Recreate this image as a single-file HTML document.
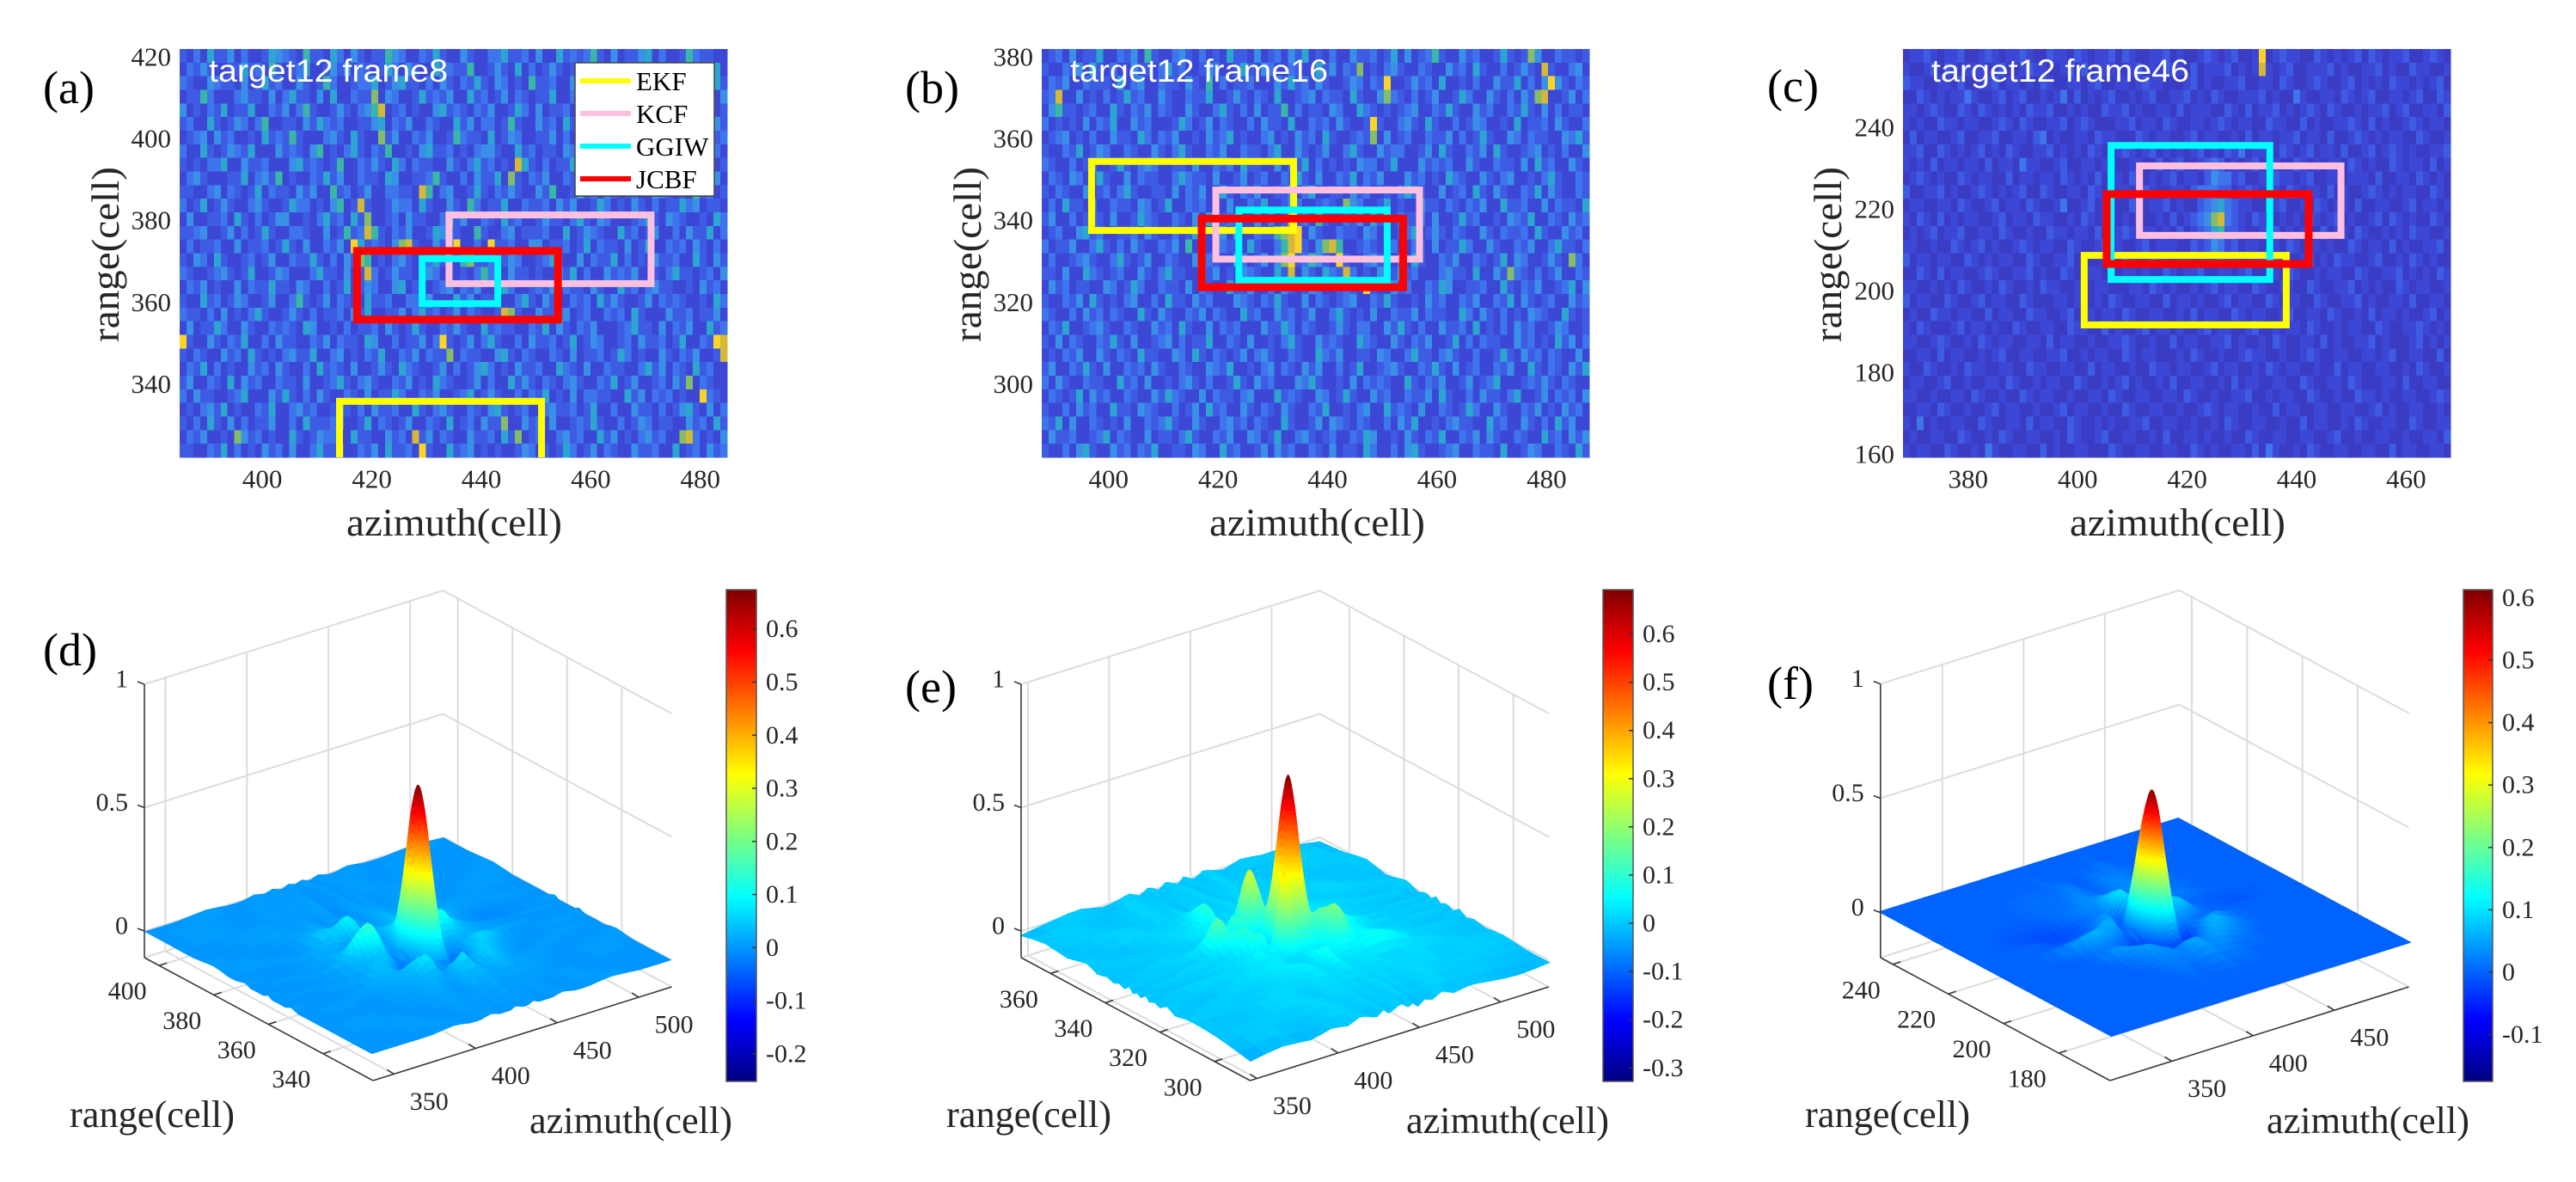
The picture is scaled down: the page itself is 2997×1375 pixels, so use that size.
<!DOCTYPE html>
<html>
<head>
<meta charset="utf-8">
<title>Target tracking heatmaps and 3D surfaces</title>
<style>
html,body{margin:0;padding:0;background:#fff;width:2997px;height:1375px;overflow:hidden}
svg{position:absolute;left:0;top:0;display:block}
text{font-family:"Liberation Serif",serif;fill:#262626}
.lab{font-size:46px}
.lab3{font-size:44px}
.letter{font-size:54px;fill:#000}
.title{font-family:"Liberation Sans",sans-serif;font-size:37px;fill:#fff}
.leg{font-size:31px;fill:#000}
</style>
</head>
<body>
<svg id="chart" xmlns="http://www.w3.org/2000/svg" width="2997" height="1375" viewBox="0 0 2997 1375">
<rect x="0" y="0" width="2997" height="1375" fill="#fff"/>
<g id="layer-marks"></g>
<g>
<text class="letter" x="50" y="120">(a)</text>
<text class="letter" x="1053" y="120">(b)</text>
<text class="letter" x="2056" y="118">(c)</text>
<text class="letter" x="50" y="774">(d)</text>
<text class="letter" x="1053" y="817">(e)</text>
<text class="letter" x="2056" y="813">(f)</text>
</g>
<g>
<text class="title" x="243" y="95" textLength="278" lengthAdjust="spacingAndGlyphs">target12 frame8</text>
<text class="title" x="1245" y="95" textLength="300" lengthAdjust="spacingAndGlyphs">target12 frame16</text>
<text class="title" x="2247" y="95" textLength="300" lengthAdjust="spacingAndGlyphs">target12 frame46</text>
</g>
<g>
<text class="lab" x="403" y="623" textLength="251" lengthAdjust="spacingAndGlyphs">azimuth(cell)</text>
<text class="lab" x="1407" y="623" textLength="251" lengthAdjust="spacingAndGlyphs">azimuth(cell)</text>
<text class="lab" x="2408" y="623" textLength="251" lengthAdjust="spacingAndGlyphs">azimuth(cell)</text>
<text class="lab" transform="translate(138,398) rotate(-90)" textLength="204" lengthAdjust="spacingAndGlyphs">range(cell)</text>
<text class="lab" transform="translate(1141,398) rotate(-90)" textLength="204" lengthAdjust="spacingAndGlyphs">range(cell)</text>
<text class="lab" transform="translate(2142,398) rotate(-90)" textLength="204" lengthAdjust="spacingAndGlyphs">range(cell)</text>
<text class="lab3" x="81" y="1311" textLength="192" lengthAdjust="spacingAndGlyphs">range(cell)</text>
<text class="lab3" x="1101" y="1311" textLength="192" lengthAdjust="spacingAndGlyphs">range(cell)</text>
<text class="lab3" x="2100" y="1311" textLength="192" lengthAdjust="spacingAndGlyphs">range(cell)</text>
<text class="lab3" x="616" y="1318" textLength="236" lengthAdjust="spacingAndGlyphs">azimuth(cell)</text>
<text class="lab3" x="1636" y="1318" textLength="236" lengthAdjust="spacingAndGlyphs">azimuth(cell)</text>
<text class="lab3" x="2637" y="1318" textLength="236" lengthAdjust="spacingAndGlyphs">azimuth(cell)</text>
</g>
<g>
<rect x="669" y="73" width="162" height="155" fill="#fff" stroke="#444" stroke-width="1.5"/>
<line x1="675" y1="94" x2="734" y2="94" stroke="#ffff00" stroke-width="6"/>
<line x1="675" y1="132" x2="734" y2="132" stroke="#ffc0e0" stroke-width="6"/>
<line x1="675" y1="170" x2="734" y2="170" stroke="#00ffff" stroke-width="6"/>
<line x1="675" y1="208" x2="734" y2="208" stroke="#ff0000" stroke-width="6"/>
<text class="leg" x="740" y="105">EKF</text>
<text class="leg" x="740" y="143">KCF</text>
<text class="leg" x="740" y="181">GGIW</text>
<text class="leg" x="740" y="219">JCBF</text>
</g>
</svg>
<script>
/* ---------- heatmap levels (digit per cell, 0 low .. 9 high) ---------- */
const heatA=[
"21315224131125432162215314212264311325211421133522314115232362141224513112632211",
"13242112252316212351124241321253142115332261124215131242125321143213521142224351",
"32114322141252311421263112335124522131421325214312162231144213212521331424113252",
"12263111342214135221415113227143112523241152312413212251132341252113142252131214",
"41213251225113241362112421346812312114523213241125314122315211324215211326142312",
"23115212431361122142532311224513241132115241331262114231522124311152423213121542",
"12341423112152326211134215211724113241126322151243112241312513423121132514211323",
"31152124325111423214612135213261121452231213442115231221431153212416122331422131",
"21213351142231114523212611324215313221142135231218521312251141322152431121133412",
"13421112251342612113252411322154112236211314225172132411324223115214122352113241",
"22113413212513221424116231241133221861341125213242114261125231421231143212162312",
"31251242113421125331214612821124331521142163122511322314241125312142131225341221",
"14112231521312441121352315271123142211362411321523112422135214311123521432112153",
"22341124131252113321141262386213241125432116211341222311512432115231241131422513",
"13122311412231252141132419523214782114239113192231144122312513221412511323142131",
"21431521123124113225213142761213421135211672231243112352114132251312142231152142",
"32112342125112431113522141283124221343121213632142212114251311423241121352212314",
"13241211413225221431131251243114512212341324112531123241322142115231342211214231",
"21152312431124113621241321152231133241115241223113521421132315242112413232112153",
"32213141213521124213122314251122413523124132112872114223412311323152111422312241",
"14122531142113232154112131223142125211324211523221132514213241112352214132411523",
"92114213251131422113241322154113122413921241352113142231251243112314223125113298",
"21321142315212134225113412132511324132271322114521321132141223125312114213241128",
"13251312114231421131523214112421532112413124531214223115321411322113524132152311",
"24113215142311322141123521342113241215321124131152421321342113251241123142713211",
"31422112351114252131421132141225311324112351242113132512141332211524132312119321",
"12134251211325113423112521314223115213421132145212311342231251131142213124521413",
"21315214131224113152223411251321241132151231422711423141123252113124312211423152",
"13241121742312115212433115221142318241321142231527123113423115241213423117831214",
"22113251312142314113522311324152231921152341212112431212531241321142231151231423"];
const heatB=[
"12314122511324162113421312152214123142512131142231251412362114231125212741132212",
"21132415213114221352311243112521431132115241327121342113211423152113124218211341",
"13241132221513411322142161312231114252314211243132911242315112131142251314942132",
"23811412131252311421132251124213215112341322152114732131241125311421314278112413",
"14622123115213241321142113521314122613122143115321212341132521142311325214131221",
"31212141325114231112531241321131422151132314211292113421521131243112151223142113",
"12341213114221531324112142351211341214231521123271412311322413125211431322114352",
"21132512431132114213521132411322135114212411352114233112415211324152112341213114",
"32113124112521343112214113231522114132513121214331251114232311421132214152311421",
"13214312521141322113532214112412311325214113251324111423121532114213411213521132",
"21321141231352112214132411521324112241351122142311213532114123152142113251421132",
"13152214113221431251132312141132511243112321743112512114221321324115223114132215",
"24113123214112532113214151232114131282316211324152113223141125231121432511321423",
"12311452311223142113125212415113226789142113221431112351242132114213223152114231",
"31224113521314211324161214322152113689214786112321431132141225311421132411352213",
"13112342113521241132114232115312414792364219211342213152113241132125143112421731",
"22141153212311421352211324121432115281421532831214125231113422151142732131241132",
"14231221143125311322141321152241131421243112321921142311325411223115213241123514",
"21132415212134113152214231114321325211413212341132521121423113241132514212311423",
"32113142313211521421132413211523114231241135212141132241322115314213121432115212",
"13251123421132114231521141323111422531321124213311425213114223151213142311243112",
"21413211325214112341312251132141121352114232115321142132411251313221142312152413",
"12132411421321522114315213212413421132115324112214311352213421131125214231321141",
"24113252141132314211321143251121341321424113125112342113252141231132411521321425",
"31421132211523141121342131125214231114352112141323211521324112412351112324213211",
"13212514231132114253211413221341115232114312521142311322415211314221351124132314",
"21131423115221432113124152311421321421132511213411523214113212531142113241214231",
"32514113212141132352114211342313211521124143213211314251121342211523114213152411",
"14223112351321141221352113241143125113421231132541121421325113241421132115231424",
"21131452114231325112214311523112414231132141221531131452112341132215112431132152"];
const heatC=[
"01121011200121011210021102101120210011201001210120019012110021010120210112001210",
"10012021011101200121100120201110012010211020111201018101200111201001120100211001",
"21100110200112011010210011012001101211000120100112001102100121001201010211010120",
"00210101131001201200101302010120010120011201021001112010031001102101200110120021",
"11012100210210101021120010100211201001102011100210201120101210210010112012001102",
"10100211011001210210011201210001120110210011012101100211002010011210201001210110",
"02011001200112001102301001102110002101100120110010201101120110200121010110021001",
"11200210101201021001120101021001210120101012010213011002101201102001201210100112",
"10102011011020110311001200110120011002012001232010120110021010110210100210110201",
"01210100210110020110110210102011021010120110243312001021101200110111020011021010",
"20011201001210101200210011021001100210011023332201210010210110201001210101100210",
"01100110210012011021001300120110021011201002345321100212001021011020011001201101",
"10210201011001201102110010210110102001020123478321021001010210120100120210100210",
"01012011200110210010021101102001210110102012356221001120101002011021001010211001",
"11001002101201001210110021001201001201110021243120110010210110100210110201001120",
"20110110021010110021001120100110210021001100112010011021001201021100120010210100",
"00210201100121001120100210011020110100210112001101200110210010110021001120101021",
"11001010210010210010211001201100011021010010120110021001100210011201010021011001",
"20110021001201100210001101201021001100201101001201100210110021001120100110200110",
"01002110110020110021100120010110210011001020110021011001200110210010201101001201",
"10210001201101002100110021100201001201101001201100120010110210010110021001121010",
"11001210010210110011020110010011210010020110011201001021001102010011201000120101",
"00110201100101200110011200101100210110001021001001211001001210011001101200110020",
"10021001021100110021100110020110010021101100120110010210110010020110011001021001",
"01100120010011021001011002100101201001020011001020110011002100110210001102001100",
"11001001102100100210110010011021001100110210010011200101100210010021101001100121",
"00110210010012011001001201100100210011001001210110010020110011001100120100110010",
"10301001100210011020110021001010011200110010010210011001002011001021001100210011",
"01001100210010210011001021001200110010200110100100210011001100120010011001001102",
"10110021001031001100201001100021001100110021010011020310010210011001100201100110"];

/* heatmap axes */
const xTicksA=[400,420,440,460,480];
const yTicksA=[340,360,380,400,420];
const xLimA=[384.9,484.9];
const yLimA=[322,421.9];
const xTicksB=[400,420,440,460,480];
const yTicksB=[300,320,340,360,380];
const xLimB=[387.8,487.8];
const yLimB=[282,381.9];
const xTicksC=[380,400,420,440,460];
const yTicksC=[160,180,200,220,240];
const xLimC=[368.1,468.1];
const yLimC=[159.2,259.1];

/* tracker boxes: azimuth-min, azimuth-max, range-min, range-max */
const ekfBoxA=[414.1,451,318,335.7];
const kcfBoxA=[434.1,471,364.5,381.3];
const ggiwBoxA=[429.2,443,359.6,370.6];
const jcbfBoxA=[417.3,454,355.7,372.5];
const ekfBoxB=[396.9,433.8,337.5,354.4];
const kcfBoxB=[419.6,456.8,330.5,347.4];
const ggiwBoxB=[423.8,450.9,325.3,342.5];
const jcbfBoxB=[417,453.8,323.6,340.4];
const ekfBoxC=[401.2,438.1,191.6,208.6];
const kcfBoxC=[411.3,448.1,213.5,230.5];
const ggiwBoxC=[406.1,435.1,202.7,235.5];
const jcbfBoxC=[405.3,442.2,206.5,223.6];

/* 3D surface nodes (cells) and heights (hundredths) */
const azNodesD=[337,357,374,387,397,404,410,415,419,422,425,429,433,436,439,443,448,454,461,471,484,501,520];
const rangeNodesD=[405,396,387,380,375,371.5,368.5,366.5,364.5,363,361.5,360,358.5,357,355.5,353.5,351.5,349,346,342,336,329,322];
const surfaceD=[
[0,0,1,0,0,1,0,1,0,0,1,0,1,0,0,1,0,0,1,0,0,1,0],
[0,1,0,0,1,0,1,0,1,1,0,0,0,1,0,0,1,1,0,0,1,0,0],
[0,0,1,1,0,1,0,1,1,0,-1,0,1,1,0,1,0,0,1,1,0,0,1],
[1,0,0,1,2,2,1,0,0,1,1,0,1,2,2,1,1,2,1,0,0,1,0],
[0,1,0,1,6,5,9,5,1,1,2,1,2,3,3,2,3,4,2,1,1,0,0],
[0,0,1,2,3,2,6,3,0,1,3,3,3,4,3,3,4,5,3,1,0,1,0],
[1,0,0,2,1,0,2,1,-1,2,5,7,6,5,3,4,5,6,3,0,-1,0,0],
[0,0,1,2,4,6,5,2,0,3,6,12,8,6,4,6,7,5,2,0,-1,0,0],
[0,1,0,2,9,13,9,3,1,6,18,30,18,10,7,8,9,6,3,0,-1,0,1],
[0,0,1,3,10,14,8,1,1,11,29,47,30,15,9,11,11,6,3,1,0,0,0],
[0,0,1,3,7,11,5,-1,2,17,41,61,41,19,10,11,10,5,2,1,0,1,0],
[1,0,0,2,4,7,3,-2,3,20,45,67,45,21,9,8,7,4,2,1,0,0,0],
[0,0,1,2,3,4,2,-2,2,17,41,61,41,18,6,3,4,3,2,1,1,0,0],
[0,1,0,2,4,4,0,-4,0,11,29,47,30,13,3,0,2,2,3,2,1,0,0],
[0,0,1,1,4,2,-2,-5,-1,6,18,30,18,6,0,-2,2,4,4,2,0,0,1],
[0,0,1,2,4,1,-1,-4,-3,1,7,12,6,0,-3,-4,2,5,5,1,0,1,0],
[1,0,0,2,3,2,4,3,-2,-1,2,1,0,-3,-5,-3,3,6,3,1,0,0,0],
[0,0,1,2,2,3,6,8,4,0,-1,-3,-2,-2,-3,1,5,4,2,0,0,1,0],
[0,1,0,1,2,2,3,4,2,1,3,5,7,3,0,4,5,3,1,0,1,0,0],
[0,0,0,1,1,2,2,1,1,2,3,3,3,3,2,2,3,2,1,1,0,0,1],
[0,1,0,0,1,1,1,0,1,1,2,1,2,1,1,1,1,1,1,0,0,1,0],
[0,0,1,0,0,1,0,1,0,1,0,1,1,0,1,0,1,0,0,1,0,0,0],
[0,0,0,1,0,0,1,0,0,0,1,0,0,1,0,0,0,1,0,0,1,0,0]];
const azNodesE=[346,366,383,396,406,413,419,424,428,431,435,439,443,446,449,453,458,464,471,481,494,511,530];
const rangeNodesE=[371,362,354,347,343,339.5,337,335,333,331.5,330,328.5,327,325.5,324,322,320,317.5,314.5,310.5,304,296,287];
const surfaceE=[
[-2,0,1,-1,0,1,-1,1,0,-1,1,0,-1,1,0,-1,1,0,-1,1,0,0,-2],
[0,1,-1,0,2,0,1,-1,0,1,0,2,0,-1,1,0,2,0,1,-1,0,1,-1],
[-1,0,2,0,1,1,2,0,2,0,1,0,2,1,0,2,0,1,0,2,0,-1,1],
[1,-1,0,2,2,4,10,2,1,1,2,1,2,1,3,2,1,2,1,0,2,0,-1],
[-1,1,0,1,3,5,5,3,4,5,2,2,1,2,2,3,4,4,2,1,0,1,0],
[0,-1,1,0,2,3,2,3,13,22,10,3,1,2,3,4,5,6,3,2,1,-1,1],
[-1,1,1,2,8,3,11,8,24,26,18,7,2,3,4,5,5,4,2,1,1,1,0],
[0,0,1,3,14,4,9,10,13,11,12,11,6,5,5,4,4,3,2,2,0,0,-1],
[-1,1,0,2,12,5,8,5,3,8,18,30,18,9,6,5,3,4,3,1,1,-1,0],
[1,-1,1,2,6,10,9,4,1,12,29,46,30,15,8,7,5,5,4,2,0,1,0],
[-1,0,2,1,4,5,8,5,0,17,40,61,41,20,9,9,7,7,5,2,1,0,-1],
[0,1,0,1,3,7,9,7,-2,19,44,69,45,22,10,10,8,8,6,3,1,0,1],
[-1,0,1,2,2,5,6,4,5,21,42,61,41,20,11,11,10,9,7,3,0,1,-1],
[1,-1,0,1,3,3,4,5,20,27,34,46,30,17,13,14,13,10,6,2,2,-1,0],
[-1,1,1,2,2,6,3,7,33,29,24,30,19,13,13,15,14,11,5,2,0,1,0],
[0,0,2,1,3,4,4,4,17,13,10,11,8,7,11,17,15,7,5,2,1,0,-1],
[-1,1,0,2,2,3,4,2,3,3,4,4,4,5,9,18,15,6,5,3,1,-1,1],
[1,-1,1,2,3,4,3,2,2,2,5,5,4,4,6,8,7,4,6,4,1,1,-1],
[-1,0,1,1,2,3,4,4,3,2,5,8,4,3,4,4,4,6,7,5,1,0,0],
[0,1,0,1,2,2,2,4,3,2,2,4,3,2,2,2,3,2,2,2,2,0,-1],
[0,-1,1,2,1,0,2,1,2,1,2,1,2,1,1,2,1,2,1,2,0,1,0],
[-1,1,0,0,2,1,0,1,1,0,1,0,1,2,0,1,0,1,2,0,1,0,-1],
[-3,-1,-2,0,-1,1,0,-1,1,-1,0,1,-1,0,-2,0,-1,1,-1,0,-1,-2,-1]];
const azNodesF=[312,332,349,362,372,379,385,390,394,397,401,405,409,412,415,419,424,430,437,447,460,477,496];
const rangeNodesF=[245,236,228,221,216,212.5,210,208,206,204.5,202.5,201,199.5,198,196.5,194.5,192.5,190,187,183,177,170,161];
const surfaceF=[
[0,0,0,0,0,0,0,0,0,0,0,0,0,0,0,0,0,0,0,0,0,0,0],
[0,0,0,0,0,0,0,0,1,0,0,0,0,0,0,0,0,1,0,0,0,0,0],
[0,0,0,0,1,1,1,1,1,2,2,1,0,0,1,2,2,2,1,0,0,0,0],
[0,0,0,0,1,1,1,2,3,3,2,2,1,1,2,3,3,2,1,1,0,0,0],
[0,0,-1,-1,0,1,2,3,3,4,6,6,4,3,2,2,2,2,1,1,0,0,0],
[0,0,-1,-2,-1,0,1,2,3,6,9,10,7,4,2,1,1,1,2,1,0,0,0],
[0,0,0,-2,-1,0,2,4,2,2,6,9,6,2,1,3,2,1,2,1,0,0,0],
[0,0,0,-1,0,1,3,5,1,-1,2,8,4,-2,0,4,4,1,1,0,0,0,0],
[0,0,0,0,1,3,5,4,-1,4,18,28,17,5,-1,5,6,3,1,0,-1,0,0],
[0,0,1,2,3,5,6,2,0,11,28,43,28,12,2,6,8,5,1,0,-1,0,0],
[0,0,1,4,6,5,5,1,2,17,38,56,38,17,4,7,8,5,1,0,-1,0,0],
[0,0,1,5,6,4,3,-1,3,20,42,61,42,20,5,6,6,3,1,0,0,0,0],
[0,0,1,3,4,2,1,-2,2,17,38,56,38,18,4,4,3,1,1,0,0,0,0],
[0,0,0,2,3,1,0,-3,0,11,28,43,28,12,2,2,2,1,2,1,0,0,0],
[0,0,0,1,2,1,-2,-4,-2,5,17,28,17,5,-1,0,2,3,4,1,0,0,0],
[0,0,0,1,4,2,1,-2,-4,-1,5,10,5,-1,-4,-2,3,5,3,1,0,0,0],
[0,0,0,1,4,4,3,2,0,-4,-3,-3,-4,-4,-3,1,5,6,4,1,0,0,0],
[0,0,0,0,2,3,5,3,2,0,0,1,0,0,1,3,6,5,3,1,0,0,0],
[0,0,0,0,1,2,3,3,3,2,4,5,5,3,3,5,5,3,2,0,0,0,0],
[0,0,0,0,0,1,2,2,2,2,3,4,4,3,3,3,2,1,1,0,0,0,0],
[0,0,0,0,0,0,1,1,0,1,1,1,2,1,1,1,1,0,0,0,0,0,0],
[0,0,0,0,0,0,0,0,0,0,0,0,0,0,0,0,0,0,0,0,0,0,0],
[0,0,0,0,0,0,0,0,0,0,0,0,0,0,0,0,0,0,0,0,0,0,0]];

/* 3D axes */
const azTicksD=[350,400,450,500];
const rangeTicksD=[400,380,360,340];
const azLimD=[337.2,520.2];
const rangeLimD=[405.4,321.7];
const azTicksE=[350,400,450,500];
const rangeTicksE=[360,340,320,300];
const azLimE=[345.8,529.6];
const rangeLimE=[370.8,287];
const azTicksF=[350,400,450];
const rangeTicksF=[240,220,200,180];
const azLimF=[312,495.8];
const rangeLimF=[244.5,161.5];
const zTicks=[0,0.5,1];

/* colorbars */
const cbarTicksD=[-0.2,-0.1,0,0.1,0.2,0.3,0.4,0.5,0.6];
const cbarLimD=[-0.252,0.674];
const cbarTicksE=[-0.3,-0.2,-0.1,0,0.1,0.2,0.3,0.4,0.5,0.6];
const cbarLimE=[-0.328,0.692];
const cbarTicksF=[-0.1,0,0.1,0.2,0.3,0.4,0.5,0.6];
const cbarLimF=[-0.175,0.613];

const NS='http://www.w3.org/2000/svg';
const root=document.getElementById('layer-marks');
const heatPalette=['#3a3cc4','#3d47d6','#3e5be4','#3e74ec','#3990e6','#2ca6d0','#3ab6a6','#84bd6a','#d6b838','#fcd428'];

function mk(tag,attrs,parent){
  const n=document.createElementNS(NS,tag);
  for(const k in attrs)n.setAttribute(k,attrs[k]);
  parent.appendChild(n);
  return n;
}

function tickText(parent,x,y,anchor,str,size){
  const t=mk('text',{x:x,y:y,'text-anchor':anchor,'font-size':size,'dominant-baseline':'central'},parent);
  t.textContent=str;
  
  
  return t;
}

function drawHeatPanel(id,px,rows,xLim,yLim,xTicks,yTicks,boxes){
  const g=mk('g',{},root);
  
  
  const W=637,H=475;
  const sx=v=>px+(v-xLim[0])/(xLim[1]-xLim[0])*W;
  const sy=v=>57+(yLim[1]-v)/(yLim[1]-yLim[0])*H;
  const bg=mk('rect',{x:px,y:57,width:W,height:H,fill:'#3e5be4'},g);
  
  
  const cg=mk('g',{'shape-rendering':'crispEdges'},g);
  
  
  const rh=H/rows.length;
  rows.forEach((row,r)=>{
    const cw=W/80;
    for(let c=0;c<row.length&&c<80;c++){
      const cell=mk('rect',{x:(px+c*cw).toFixed(2),y:(57+r*rh).toFixed(2),width:(cw+.6).toFixed(2),height:(rh+.6).toFixed(2),fill:heatPalette[+row[c]]},cg);
      
      
    }
  });
  const cp=mk('clipPath',{id:'clip-'+id},g);
  mk('rect',{x:px,y:57,width:W,height:H},cp);
  const colors=['#ffff00','#ffc0e0','#00ffff','#ff0000'];
  const names=['ekf','kcf','ggiw','jcbf'];
  const bg2=mk('g',{'clip-path':'url(#clip-'+id+')'},g);
  
  
  boxes.forEach((b,i)=>{
    const x1=sx(b[0]),x2=sx(b[1]),y1=sy(b[3]),y2=sy(b[2]);
    const rc=mk('rect',{x:x1,y:y1,width:x2-x1,height:y2-y1,fill:'none',stroke:colors[i],'stroke-width':i===3?9:8},bg2);
    
    
  });
  xTicks.forEach(v=>tickText(g,sx(v),557,'middle',String(v),31));
  yTicks.forEach(v=>tickText(g,px-10,sy(v),'end',String(v),31));
}

function jet(t){
  t=Math.max(0,Math.min(1,t));
  const f=(a)=>Math.round(255*Math.max(0,Math.min(1,a)));
  return 'rgb('+f(Math.min(4*t-1.5,-4*t+4.5))+','+f(Math.min(4*t-0.5,-4*t+3.5))+','+f(Math.min(4*t+0.5,-4*t+2.5))+')';
}

function cr(p0,p1,p2,p3,t){
  return 0.5*((2*p1)+(-p0+p2)*t+(2*p0-5*p1+4*p2-p3)*t*t+(-p0+3*p1-3*p2+p3)*t*t*t);
}
function nodeAt(arr,f){
  const n=arr.length;
  const i=Math.min(n-2,Math.floor(f));
  const t=f-i;
  return cr(arr[Math.max(0,i-1)],arr[i],arr[i+1],arr[Math.min(n-1,i+2)],t);
}
function heightAt(grid,fr,fa){
  const nr=grid.length;
  const r=Math.min(nr-2,Math.floor(fr)),t=fr-r;
  const vals=[];
  for(let k=-1;k<=2;k++){
    const rr=Math.max(0,Math.min(nr-1,r+k));
    vals.push(nodeAt(grid[rr],fa));
  }
  return cr(vals[0],vals[1],vals[2],vals[3],t);
}

function draw3D(id,cfg,azNodes,rangeNodes,grid,azLim,rangeLim,azTicks,rangeTicks,cbarTicks,cbarLim){
  const g=mk('g',{},root);
  
  
  const L=cfg.L,A=cfg.A,R=cfg.R,zs=cfg.zs,zmin=cfg.zmin;
  const U=a=>(a-azLim[0])/(azLim[1]-azLim[0]);
  const V=r=>(rangeLim[0]-r)/(rangeLim[0]-rangeLim[1]);
  const P=(u,v,z)=>[L[0]+u*A[0]+v*R[0],L[1]+u*A[1]+v*R[1]-(z-zmin)*zs];
  const seg=(a,b,col,w,name)=>{
    const l=mk('line',{x1:a[0],y1:a[1],x2:b[0],y2:b[1],stroke:col,'stroke-width':w},g);
    
    
    return l;
  };
  const GRID='#dcdcdc';
  zTicks.forEach(z=>{
    seg(P(0,0,z),P(1,0,z),GRID,2,'wall-grid-line');
    seg(P(1,0,z),P(1,1,z),GRID,2,'wall-grid-line');
  });
  azTicks.forEach(a=>{
    const u=U(a);
    seg(P(u,0,zmin),P(u,0,1),GRID,2,'wall-grid-line');
    seg(P(u,0,zmin),P(u,1,zmin),GRID,2,'floor-grid-line');
  });
  rangeTicks.forEach(r=>{
    const v=V(r);
    seg(P(1,v,zmin),P(1,v,1),GRID,2,'wall-grid-line');
    seg(P(0,v,zmin),P(1,v,zmin),GRID,2,'floor-grid-line');
  });
  seg(P(0,0,zmin),P(1,0,zmin),GRID,2,'floor-edge');
  seg(P(1,0,zmin),P(1,1,zmin),GRID,2,'floor-edge');

  const sg=mk('g',{},g);
  
  
  const nA=azNodes.length,nR=rangeNodes.length;
  const col=z=>jet((z-cbarLim[0])/(cbarLim[1]-cbarLim[0]));
  for(let i=nA-2;i>=0;i--){
    for(let j=0;j<nR-1;j++){
      const c=[grid[j][i],grid[j][i+1],grid[j+1][i],grid[j+1][i+1]];
      const rng=Math.max.apply(null,c)-Math.min.apply(null,c);
      const n=Math.min(8,Math.max(2,Math.ceil(rng/2.5)));
      for(let si=n-1;si>=0;si--){
        for(let sj=0;sj<n;sj++){
          const corner=(p,q)=>{
            const fa=i+p/n,fr=j+q/n;
            const z=heightAt(grid,fr,fa)/100;
            return {z:z,pt:P(U(nodeAt(azNodes,fa)),V(nodeAt(rangeNodes,fr)),z)};
          };
          const a=corner(si,sj),b=corner(si+1,sj),d=corner(si+1,sj+1),e=corner(si,sj+1);
          const fill=col((a.z+b.z+d.z+e.z)/4);
          const poly=mk('path',{d:'M'+a.pt[0].toFixed(1)+' '+a.pt[1].toFixed(1)+'L'+b.pt[0].toFixed(1)+' '+b.pt[1].toFixed(1)+'L'+d.pt[0].toFixed(1)+' '+d.pt[1].toFixed(1)+'L'+e.pt[0].toFixed(1)+' '+e.pt[1].toFixed(1)+'Z',fill:fill,stroke:fill,'stroke-width':1},sg);
          
          
        }
      }
    }
  }

  const AX='#3a3a3a';
  seg(P(0,0,zmin),P(0,0,1),AX,1.6,'z-axis-line');
  seg(P(0,0,zmin),P(0,1,zmin),AX,1.6,'range-axis-line');
  seg(P(0,1,zmin),P(1,1,zmin),AX,1.6,'azimuth-axis-line');
  zTicks.forEach(z=>{
    const p=P(0,0,z);
    seg(p,[p[0]-8,p[1]-3],AX,1.6,'z-tick');
    tickText(g,p[0]-19,p[1]-6,'end',String(z),30);
  });
  rangeTicks.forEach(r=>{
    const p=P(0,V(r),zmin);
    seg(p,[p[0]+9,p[1]-3],AX,1.6,'range-tick');
    tickText(g,p[0]-37,p[1]+30,'middle',String(r),30);
  });
  azTicks.forEach(a=>{
    const p=P(U(a),1,zmin);
    seg(p,[p[0]-8,p[1]-5],AX,1.6,'azimuth-tick');
    tickText(g,p[0]+41,p[1]+32,'middle',String(a),30);
  });

  const gid='jet-'+id;
  const lg=mk('linearGradient',{id:gid,x1:0,y1:1,x2:0,y2:0},g);
  [[0,'#00007f'],[.125,'#0000ff'],[.375,'#00ffff'],[.625,'#ffff00'],[.875,'#ff0000'],[1,'#7f0000']].forEach(s=>{
    mk('stop',{offset:s[0],'stop-color':s[1]},lg);
  });
  const cx=cfg.cbarX,cw=cfg.cbarW,cy=686,ch=572;
  const bar=mk('rect',{x:cx,y:cy,width:cw,height:ch,fill:'url(#'+gid+')',stroke:'#555','stroke-width':1.5},g);
  
  
  cbarTicks.forEach(v=>{
    const y=cy+ch*(cbarLim[1]-v)/(cbarLim[1]-cbarLim[0]);
    seg([cx+cw-5,y],[cx+cw,y],'#333',1.5,'colorbar-tick');
    tickText(g,cx+cw+11,y,'start',String(v),30);
  });
}

drawHeatPanel('a',209,heatA,xLimA,yLimA,xTicksA,yTicksA,[ekfBoxA,kcfBoxA,ggiwBoxA,jcbfBoxA]);
drawHeatPanel('b',1212,heatB,xLimB,yLimB,xTicksB,yTicksB,[ekfBoxB,kcfBoxB,ggiwBoxB,jcbfBoxB]);
drawHeatPanel('c',2214,heatC,xLimC,yLimC,xTicksC,yTicksC,[ekfBoxC,kcfBoxC,ggiwBoxC,jcbfBoxC]);

draw3D('d',{L:[168,1114],A:[347.5,-109],R:[266,143],zs:287,zmin:-0.108,cbarX:845,cbarW:35},azNodesD,rangeNodesD,surfaceD,azLimD,rangeLimD,azTicksD,rangeTicksD,cbarTicksD,cbarLimD);
draw3D('e',{L:[1188,1114],A:[347.5,-109],R:[266.4,143],zs:287,zmin:-0.108,cbarX:1865,cbarW:35},azNodesE,rangeNodesE,surfaceE,azLimE,rangeLimE,azTicksE,rangeTicksE,cbarTicksE,cbarLimE);
draw3D('f',{L:[2187.8,1114],A:[347.7,-109],R:[267,143],zs:266,zmin:-0.197,cbarX:2866,cbarW:34},azNodesF,rangeNodesF,surfaceF,azLimF,rangeLimF,azTicksF,rangeTicksF,cbarTicksF,cbarLimF);
</script>
</body>
</html>
